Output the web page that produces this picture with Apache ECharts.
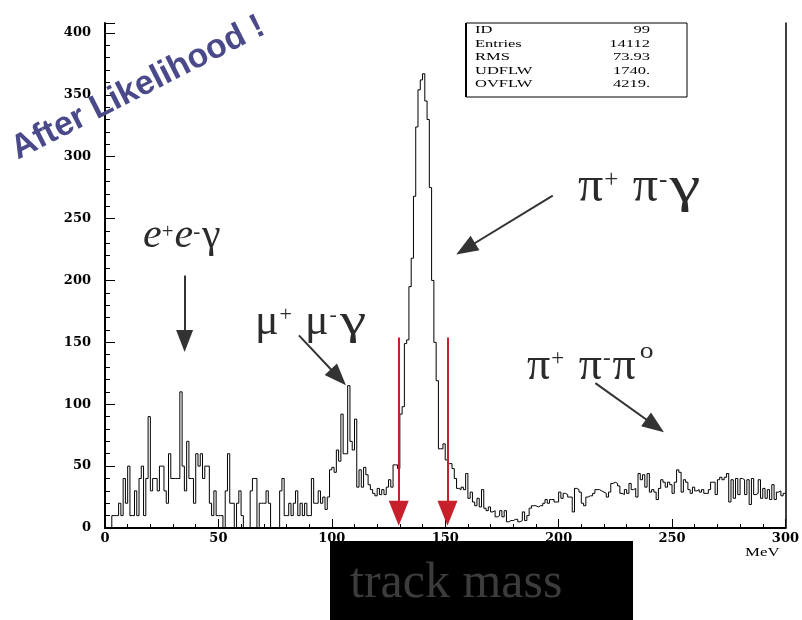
<!DOCTYPE html>
<html>
<head>
<meta charset="utf-8">
<title>track mass</title>
<script src="https://cdn.jsdelivr.net/npm/echarts@6/dist/echarts.min.js"></script>
<style>
html, body { margin: 0; padding: 0; background: #fff; }
#main { width: 802px; height: 620px; }
</style>
</head>
<body>
<div id="main"></div>
<script>
// histogram contents, 1 MeV bins
var counts0to49 = [0,0,0,10,10,10,20,10,40,20, 50,10,10,30,10,40,50,10,40,90,
                   30,40,40,30,50,50,30,20,60,40, 40,40,40,110,50,30,70,40,40,20,
                   60,50,60,40,50,50,20,10,30,10];
var counts50to99 = [10,10,0,30,60,20,20,0,20,30, 10,0,0,0,30,40,40,0,20,20,
                    20,30,20,0,0,0,0,30,40,10, 10,20,10,20,30,10,20,10,20,10,
                    10,40,20,20,30,20,25,15,25,47];
var counts100to149 = [49,45,63,54,92,60,60,115,70,63, 88,33,47,33,49,43,35,31,28,26,
                      32,27,31,27,33,39,33,51,51,48, 92,98,149,152,195,218,268,324,354,362,
                      367,345,330,275,200,150,119,64,64,68];
var counts150to199 = [55,52,52,48,40,32,31,33,31,44, 24,29,21,18,24,17,31,16,14,17,
                      13,14,9,10,14,9,14,5,6,6, 7,7,5,6,13,6,10,16,18,18,
                      17,18,18,20,23,20,23,23,21,21];
var counts200to249 = [29,24,28,27,25,25,13,32,31,29, 20,18,25,26,26,28,31,31,30,29,
                      28,25,29,36,37,36,34,28,27,31, 28,36,31,32,25,44,39,43,33,44,
                      29,31,29,23,32,39,37,33,37,35];
var counts250to299 = [28,37,47,45,29,39,37,31,28,33, 30,31,29,31,28,28,31,37,37,27,
                      39,41,39,41,44,21,39,24,40,27, 40,39,27,39,19,40,27,28,39,24,
                      32,24,31,23,35,23,29,30,26,28];
var binStart = 0;
var binWidth = 1;
var xMax = 300;
var yMax = 408;
var cutValues = [129.5, 151];
var statNames = ['ID', 'Entries', 'RMS', 'UDFLW', 'OVFLW'];
var statValues = ['99', '14112', '73.93', '1740.', '4219.'];

var serif = '"Liberation Serif", "Times New Roman", serif';
var labelFont = '"DejaVu Serif", serif';
var inkGrey = '#2b2b2b';

var counts = counts0to49.concat(counts50to99, counts100to149, counts150to199, counts200to249, counts250to299);
var histData = [];
for (var i = 0; i < counts.length; i++) {
    histData.push([binStart + i * binWidth, counts[i]]);
}
histData.push([binStart + counts.length * binWidth, counts[counts.length - 1]]);

function arrow(from, to, color, width, head) {
    return [
        { coord: from, symbol: 'none', lineStyle: { color: color, width: width, type: 'solid' }, itemStyle: { color: color } },
        { coord: to, symbol: 'triangle', symbolSize: head, itemStyle: { color: color } }
    ];
}

// formula text, one element per glyph run so the raised signs sit where they should
// part = [text, kind (m/i/s), rise, gapAfter, scaleX]
var measureCtx = document.createElement('canvas').getContext('2d');
function formula(x, baseline, size, parts) {
    var children = [];
    var cx = x;
    parts.forEach(function (p) {
        var sup = p[1] === 's';
        var fs = sup ? Math.round(size * 0.5) : size;
        var font = (p[1] === 'i' ? 'italic ' : '') + fs + 'px ' + serif;
        var sx = p[4] || 1;
        var y = sup ? baseline - (p[2] || 0.4) * size - 0.09 * fs : baseline - 0.34 * fs;
        measureCtx.font = font;
        var w = measureCtx.measureText(p[0]).width * sx;
        children.push({
            type: 'text', x: cx, y: y, z: 20, scaleX: sx,
            style: { text: p[0], font: font, fill: inkGrey, textAlign: 'left', textVerticalAlign: 'middle' }
        });
        cx += w + (p[3] || 0);
    });
    return { type: 'group', children: children };
}

var graphics = [
    {
        type: 'text', x: 138, y: 88, rotation: 0.47, z: 30,
        style: { text: 'After Likelihood !', font: 'bold 34px "Liberation Sans", Arial, sans-serif', fill: '#4a4a8a', textAlign: 'center', textVerticalAlign: 'middle' }
    },
    {
        type: 'rect', z: 10,
        shape: { x: 466, y: 23, width: 221, height: 74 },
        style: { fill: '#fff', stroke: '#000', lineWidth: 1 }
    },
    {
        type: 'line', z: 11,
        shape: { x1: 466, y1: 23, x2: 466, y2: 97 },
        style: { stroke: '#000', lineWidth: 2 }
    },
    formula(143, 250, 42, [['e', 'i'], ['+', 's', 0.38, 1], ['e', 'i'], ['-', 's', 0.38, 2], ['γ', 'm']]),
    formula(255, 337, 44, [['μ', 'm', 0, 1], ['+', 's', 0.45, 2], [' μ', 'm', 0, 1], ['-', 's', 0.45, 3], ['γ', 'm', 0, 0, 1.35]]),
    formula(578, 205, 50, [['π', 'm', 0, 1], ['+', 's', 0.44, 2], [' π', 'm', 0, 1], ['-', 's', 0.44, 2], ['γ', 'm', 0, 0, 1.4]]),
    formula(527, 383, 46, [['π', 'm', 0, 1], ['+', 's', 0.48, 3], [' π', 'm', 0, 1], ['-', 's', 0.48, 2], ['π', 'm', 0, 4], ['o', 's', 0.62, 0, 1.2]]),
    {
        type: 'text', x: 745, y: 553, scaleX: 1.4,
        style: { text: 'MeV', font: '12px ' + serif, fill: '#000', textAlign: 'left', textVerticalAlign: 'middle' }
    },
    {
        type: 'rect', z: 5,
        shape: { x: 330, y: 541, width: 303, height: 79 },
        style: { fill: '#000' }
    },
    {
        type: 'text', x: 350, y: 584, z: 6,
        style: { text: 'track mass', font: '50px ' + serif, fill: '#3c3c3c', textAlign: 'left', textVerticalAlign: 'middle' }
    }
];
for (var k = 0; k < statNames.length; k++) {
    graphics.push({
        type: 'text', x: 475, y: 30.5 + k * 13.5, scaleX: 1.5, z: 12,
        style: { text: statNames[k], font: '11px ' + serif, fill: '#000', textAlign: 'left', textVerticalAlign: 'middle' }
    });
    graphics.push({
        type: 'text', x: 650, y: 30.5 + k * 13.5, scaleX: 1.5, z: 12,
        style: { text: statValues[k], font: '11px ' + serif, fill: '#000', textAlign: 'right', textVerticalAlign: 'middle' }
    });
}

var myChart = echarts.init(document.getElementById('main'));
var option = {
    animation: false,
    backgroundColor: '#fff',
    grid: { left: 105, right: 13, top: 23, bottom: 92 },
    xAxis: [{
        type: 'value', min: 0, max: xMax, interval: 50, position: 'bottom',
        axisLine: { lineStyle: { color: '#000', width: 2 } },
        axisTick: { inside: true, length: 9, lineStyle: { color: '#000', width: 1 } },
        minorTick: { show: true, splitNumber: 5, length: 4, lineStyle: { color: '#000', width: 1 } },
        splitLine: { show: false },
        axisLabel: { margin: 4, fontFamily: labelFont, fontWeight: 'bold', fontSize: 13, color: '#000' }
    }, {
        type: 'value', min: 0, max: xMax, position: 'top',
        axisLine: { lineStyle: { color: '#000', width: 1.5 } },
        axisTick: { show: false }, axisLabel: { show: false }, splitLine: { show: false }
    }],
    yAxis: [{
        type: 'value', min: 0, max: yMax, interval: 50, position: 'left',
        axisLine: { lineStyle: { color: '#000', width: 2 } },
        axisTick: { inside: true, length: 10, lineStyle: { color: '#000', width: 1 } },
        splitLine: { show: false },
        axisLabel: {
            margin: 14, fontFamily: labelFont, fontWeight: 'bold', fontSize: 13, color: '#000',
            formatter: function (v) { return (v % 50 === 0 && v <= 400) ? String(v) : ''; }
        }
    }, {
        type: 'value', min: 0, max: yMax, interval: 10, position: 'left',
        axisLine: { show: false },
        axisTick: { inside: true, length: 5, lineStyle: { color: '#000', width: 1 } },
        axisLabel: { show: false }, splitLine: { show: false }
    }, {
        type: 'value', min: 0, max: yMax, position: 'right',
        axisLine: { lineStyle: { color: '#000', width: 1.5 } },
        axisTick: { show: false }, axisLabel: { show: false }, splitLine: { show: false }
    }],
    series: [{
        type: 'line',
        xAxisIndex: 0,
        yAxisIndex: 0,
        data: histData,
        step: 'end',
        showSymbol: false,
        symbol: 'none',
        silent: true,
        lineStyle: { color: '#000', width: 1 },
        markLine: {
            silent: true,
            animation: false,
            label: { show: false },
            symbol: ['none', 'triangle'],
            data: [
                arrow([cutValues[0], 154], [cutValues[0], 12], '#c8202a', 2, [20, 25]),
                arrow([cutValues[1], 154], [cutValues[1], 12], '#c8202a', 2, [20, 25]),
                arrow([35.1, 204], [35.1, 151], '#333', 2, [17, 22]),
                arrow([85.5, 155.6], [102.9, 121.8], '#333', 2, [17, 22]),
                arrow([197.4, 268.5], [159, 225.6], '#333', 2, [17, 22]),
                arrow([216.2, 117], [242.5, 82.6], '#333', 2, [17, 22])
            ]
        }
    }],
    graphic: graphics
};
myChart.setOption(option);
</script>
</body>
</html>
